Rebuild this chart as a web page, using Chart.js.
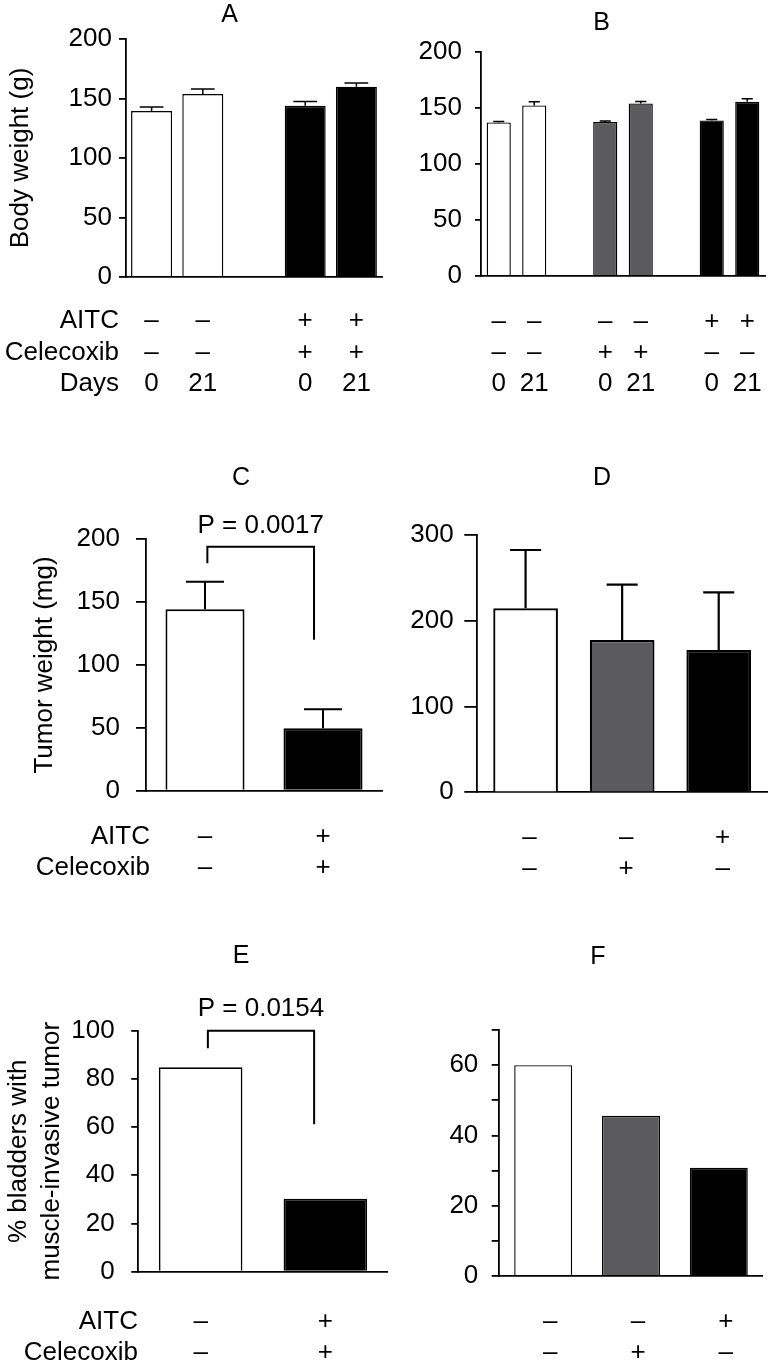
<!DOCTYPE html>
<html lang="en">
<head>
<meta charset="UTF-8">
<title>AITC and celecoxib – body weight, tumor weight, invasive tumors</title>
<script src="https://cdn.jsdelivr.net/npm/chart.js"></script>
<style>
    body { margin: 0; background: #fff; }
    .panel { position: absolute; }
</style>
</head>
<body>
<div class="panel" style="left:0;top:0;width:390px;height:400px"><canvas id="panelA"></canvas></div>
<div class="panel" style="left:390px;top:0;width:387px;height:400px"><canvas id="panelB"></canvas></div>
<div class="panel" style="left:0;top:400px;width:390px;height:500px"><canvas id="panelC"></canvas></div>
<div class="panel" style="left:390px;top:400px;width:387px;height:500px"><canvas id="panelD"></canvas></div>
<div class="panel" style="left:0;top:900px;width:390px;height:468px"><canvas id="panelE"></canvas></div>
<div class="panel" style="left:390px;top:900px;width:387px;height:468px"><canvas id="panelF"></canvas></div>
<script>
// ---- data ----
// A: body weight (g), AITC + celecoxib vs control, days 0 and 21 (empty slot = gap)
const aGroups = ['ctrl-0', 'ctrl-21', '', 'combo-0', 'combo-21'];
const aWeight = [139.4, 153.7, null, 143.9, 159.9];
const aWeightErr = [3.4, 4.2, null, 3.6, 3.1];
const aAitc = ['–', '–', '', '+', '+'];
const aCelecoxib = ['–', '–', '', '+', '+'];
const aDays = ['0', '21', '', '0', '21'];

// B: body weight (g), control / celecoxib / AITC
const bGroups = ['ctrl-0', 'ctrl-21', '', 'cel-0', 'cel-21', '', 'aitc-0', 'aitc-21'];
const bWeight = [137.1, 152.3, null, 137.4, 154.1, null, 138.9, 155.6];
const bWeightErr = [0.9, 3.3, null, 1.0, 1.8, null, 0.9, 2.7];
const bAitc = ['–', '–', '', '–', '–', '', '+', '+'];
const bCelecoxib = ['–', '–', '', '+', '+', '', '–', '–'];
const bDays = ['0', '21', '', '0', '21', '', '0', '21'];

// C: tumor weight (mg)
const cGroups = ['control', 'AITC + celecoxib'];
const cTumor = [144.3, 49.6];
const cTumorErr = [22.0, 15.1];
const cAitc = ['–', '+'];
const cCelecoxib = ['–', '+'];
const cPValue = 'P = 0.0017';

// D: tumor weight (mg)
const dGroups = ['control', 'celecoxib', 'AITC'];
const dTumor = [214.5, 177.6, 166.0];
const dTumorErr = [68.0, 64.5, 67.2];
const dAitc = ['–', '–', '+'];
const dCelecoxib = ['–', '+', '–'];

// E: % bladders with muscle-invasive tumor
const eGroups = ['control', 'AITC + celecoxib'];
const eInvasive = [84.8, 30.3];
const eAitc = ['–', '+'];
const eCelecoxib = ['–', '+'];
const ePValue = 'P = 0.0154';

// F: % bladders with muscle-invasive tumor
const fGroups = ['control', 'celecoxib', 'AITC'];
const fInvasive = [60.0, 45.6, 30.8];
const fAitc = ['–', '–', '+'];
const fCelecoxib = ['–', '+', '–'];

// ---- drawing ----
const FONT = "'Liberation Sans', Arial, Helvetica, sans-serif";
Chart.defaults.font.family = FONT;
Chart.defaults.color = '#000';

const WHITE = '#ffffff', GRAY = '#5b5b5d', BLACK = '#000000';

// extra marks per canvas: panel letter, treatment rows, error bars, p-value bracket
const decor = {};

const decorPlugin = {
    id: 'panelDecor',
    afterDatasetsDraw(chart) {
        const d = decor[chart.canvas.id];
        if (!d.errors) return;
        const ctx = chart.ctx;
        const ys = chart.scales.y;
        const bars = chart.getDatasetMeta(0).data;
        const vals = chart.data.datasets[0].data;
        ctx.save();
        ctx.strokeStyle = '#000';
        ctx.lineWidth = d.errWidth;
        bars.forEach((bar, i) => {
            if (vals[i] == null || d.errors[i] == null) return;
            const top = ys.getPixelForValue(vals[i] + d.errors[i]);
            const half = bar.width * d.capRatio / 2;
            ctx.beginPath();
            ctx.moveTo(bar.x, bar.y);
            ctx.lineTo(bar.x, top);
            ctx.moveTo(bar.x - half, top);
            ctx.lineTo(bar.x + half, top);
            ctx.stroke();
        });
        ctx.restore();
    },
    afterDraw(chart) {
        const d = decor[chart.canvas.id];
        const ctx = chart.ctx;
        const xs = chart.scales.x, ys = chart.scales.y;
        ctx.save();
        ctx.fillStyle = '#000';
        ctx.textBaseline = 'middle';
        ctx.font = '25px ' + FONT;
        ctx.textAlign = 'center';
        ctx.fillText(d.letter, d.letterPos[0], d.letterPos[1]);

        ctx.font = '26px ' + FONT;
        d.rows.forEach((row, r) => {
            const ry = d.rowY[r];
            if (row.name) {
                ctx.textAlign = 'right';
                ctx.fillText(row.name, d.nameRight, ry);
            }
            ctx.textAlign = 'center';
            row.marks.forEach((m, i) => {
                if (m) ctx.fillText(m, xs.getPixelForValue(i) + (d.markShift || 0), ry);
            });
        });

        if (d.bracket) {
            const b = d.bracket;
            const xl = xs.getPixelForValue(b.from), xr = xs.getPixelForValue(b.to);
            const yt = ys.getPixelForValue(b.top);
            ctx.strokeStyle = '#000';
            ctx.lineWidth = 2;
            ctx.beginPath();
            ctx.moveTo(xl, ys.getPixelForValue(b.leftEnd));
            ctx.lineTo(xl, yt);
            ctx.lineTo(xr, yt);
            ctx.lineTo(xr, ys.getPixelForValue(b.rightEnd));
            ctx.stroke();
            ctx.font = '26px ' + FONT;
            ctx.textAlign = 'center';
            ctx.fillText(b.label, (xl + xr) / 2, yt - 21.5);
        }
        ctx.restore();
    }
};

function makePanel(id, p) {
    decor[id] = p.decor;
    new Chart(document.getElementById(id), {
        type: 'bar',
        data: {
            labels: p.labels,
            datasets: [{
                data: p.values,
                backgroundColor: p.colors,
                borderColor: '#000',
                borderWidth: p.barBorder,
                barPercentage: p.barPct,
                categoryPercentage: 1
            }]
        },
        options: {
            responsive: true,
            maintainAspectRatio: false,
            animation: false,
            events: [],
            layout: { padding: { left: 0, top: p.pad[0], right: p.pad[1], bottom: p.pad[2] } },
            plugins: { legend: { display: false }, tooltip: { enabled: false } },
            scales: {
                x: {
                    grid: { display: false, drawTicks: false },
                    ticks: { display: false },
                    border: { display: true, color: '#000', width: 1.8 },
                    afterFit: s => { s.height = 0; }
                },
                y: {
                    min: 0,
                    max: p.max,
                    ticks: {
                        stepSize: p.step,
                        padding: p.tickPad,
                        color: '#000',
                        font: { size: 26 },
                        callback: p.tickLabel || (v => v)
                    },
                    grid: {
                        drawOnChartArea: false,
                        tickLength: p.tickLen,
                        color: '#000',
                        lineWidth: 1.8
                    },
                    border: { color: '#000', width: 1.8 },
                    title: p.title ? {
                        display: true,
                        text: p.title,
                        color: '#000',
                        font: { size: 26, lineHeight: p.titleLH || 1.2 },
                        padding: { top: p.titlePad, bottom: 0 }
                    } : { display: false },
                    afterFit: s => { s.width = p.axisW; }
                }
            }
        },
        plugins: [decorPlugin]
    });
}

makePanel('panelA', {
    labels: aGroups, values: aWeight,
    colors: [WHITE, WHITE, WHITE, BLACK, BLACK],
    barBorder: 1.4, barPct: 0.8,
    pad: [39, 8, 123], axisW: 126,
    max: 200, step: 50, tickLen: 7, tickPad: 7,
    title: 'Body weight (g)', titlePad: 5,
    decor: {
        letter: 'A', letterPos: [229.5, 15],
        errors: aWeightErr, capRatio: 0.58, errWidth: 1.5,
        nameRight: 119, rowY: [321, 353, 384],
        rows: [
            { name: 'AITC', marks: aAitc },
            { name: 'Celecoxib', marks: aCelecoxib },
            { name: 'Days', marks: aDays }
        ]
    }
});

makePanel('panelB', {
    labels: bGroups, values: bWeight,
    colors: [WHITE, WHITE, WHITE, GRAY, GRAY, WHITE, BLACK, BLACK],
    barBorder: 1.4, barPct: 0.68,
    pad: [52, 12, 124], axisW: 91,
    max: 200, step: 50, tickLen: 6, tickPad: 13,
    decor: {
        letter: 'B', letterPos: [211.5, 23.5],
        errors: bWeightErr, capRatio: 0.46, errWidth: 1.5,
        rowY: [321.5, 352.7, 384],
        rows: [
            { marks: bAitc },
            { marks: bCelecoxib },
            { marks: bDays }
        ]
    }
});

makePanel('panelC', {
    labels: cGroups, values: cTumor,
    colors: [WHITE, BLACK],
    barBorder: 2, barPct: 0.67,
    pad: [139.3, 8, 109.3], axisW: 146,
    max: 200, step: 50, tickLen: 10, tickPad: 16,
    title: 'Tumor weight (mg)', titlePad: 29.5,
    decor: {
        letter: 'C', letterPos: [241, 78],
        errors: cTumorErr, capRatio: 0.48, errWidth: 2,
        nameRight: 150, rowY: [436.5, 468],
        rows: [
            { name: 'AITC', marks: cAitc },
            { name: 'Celecoxib', marks: cCelecoxib }
        ],
        bracket: { from: 0.02, to: 0.924, top: 194, leftEnd: 181, rightEnd: 120, label: cPValue }
    }
});

makePanel('panelD', {
    labels: dGroups, values: dTumor,
    colors: [WHITE, GRAY, BLACK],
    barBorder: 2.2, barPct: 0.67,
    pad: [135, 10, 107.7], axisW: 87.3,
    max: 300, step: 100, tickLen: 13, tickPad: 10.7,
    decor: {
        letter: 'D', letterPos: [212, 78],
        errors: dTumorErr, capRatio: 0.48, errWidth: 2.2,
        markShift: 4, rowY: [437.5, 469],
        rows: [
            { marks: dAitc },
            { marks: dCelecoxib }
        ]
    }
});

makePanel('panelE', {
    labels: eGroups, values: eInvasive,
    colors: [WHITE, BLACK],
    barBorder: 1.7, barPct: 0.67,
    pad: [130.7, 2.3, 96.3], axisW: 138.3,
    max: 100, step: 20, tickLen: 7, tickPad: 16.7,
    title: ['% bladders with', 'muscle-invasive tumor'], titleLH: 1.27, titlePad: 2.5,
    decor: {
        letter: 'E', letterPos: [241, 56.5],
        nameRight: 138, rowY: [422, 453.3],
        rows: [
            { name: 'AITC', marks: eAitc },
            { name: 'Celecoxib', marks: eCelecoxib }
        ],
        bracket: { from: 0.058, to: 0.91, top: 100, leftEnd: 92.7, rightEnd: 61.2, label: ePValue }
    }
});

makePanel('panelF', {
    labels: fGroups, values: fInvasive,
    colors: [WHITE, GRAY, BLACK],
    barBorder: 1.4, barPct: 0.66,
    pad: [130, 14.3, 92], axisW: 109.3,
    max: 70, step: 10, tickLen: 7.6, tickPad: 13.4,
    tickLabel: v => (v % 20 === 0 ? v : ''),
    decor: {
        letter: 'F', letterPos: [208, 57],
        markShift: 7, rowY: [421.7, 453.3],
        rows: [
            { marks: fAitc },
            { marks: fCelecoxib }
        ]
    }
});
</script>
</body>
</html>
